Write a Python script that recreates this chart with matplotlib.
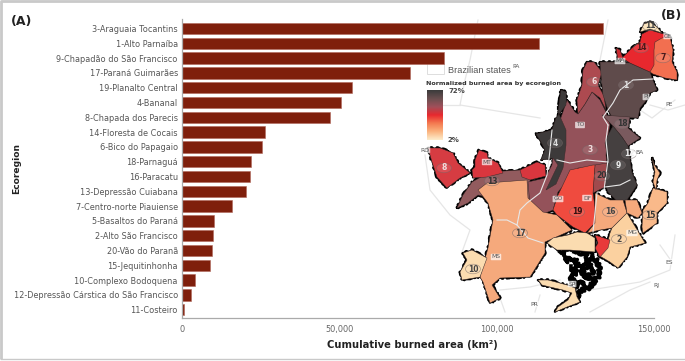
import matplotlib
matplotlib.use("Agg")
import matplotlib.pyplot as plt
import numpy as np
from matplotlib.patches import Polygon, Ellipse, Rectangle
from matplotlib.colors import LinearSegmentedColormap
from matplotlib.ticker import FuncFormatter

plt.rcParams['font.family'] = 'DejaVu Sans'

# ---------- bar data ----------
ecoregions = ["3-Araguaia Tocantins", "1-Alto Parnaíba", "9-Chapadão do São Francisco",
              "17-Paraná Guimarães", "19-Planalto Central", "4-Bananal", "8-Chapada dos Parecis",
              "14-Floresta de Cocais", "6-Bico do Papagaio", "18-Parnaguá", "16-Paracatu",
              "13-Depressão Cuiabana", "7-Centro-norte Piauiense", "5-Basaltos do Paraná",
              "2-Alto São Francisco", "20-Vão do Paranã", "15-Jequitinhonha",
              "10-Complexo Bodoquena", "12-Depressão Cárstica do São Francisco", "11-Costeiro"]
burned_area = [133900, 113600, 83200, 72500, 54100, 50600, 47100, 26500, 25400, 22000, 21500,
               20400, 16000, 10200, 9900, 9500, 8800, 4200, 2800, 600]
x_ticks = [0, 50000, 100000, 150000]

# ---------- map data (outline vertices, colour) ----------
regions = [
    ("13", "#925b5e", [(457,208),(463,195),(472,182),(490,172),(520,170),(530,178),(530,202),(500,200),(478,195),(468,203)]),
    ("3",  "#94525a", [(567,100),(575,112),(578,114),(585,104),(592,92),(600,100),(606,112),(610,125),(607,140),(606,155),(607,165),(595,168),(578,168),(570,178),(558,192),(553,210),(543,214),(530,205),(528,182),(545,178),(552,165),(555,135)]),
    ("4",  "#3d3a3a", [(561,90),(566,92),(566,105),(556,118),(552,130),(536,134),(541,142),(545,150),(541,160),(553,158),(558,165),(546,190),(556,184),(563,168),(566,145),(566,130),(558,112)]),
    ("5b", "#d9363e", [(520,170),(537,162),(545,165),(546,176),(530,180),(522,177)]),
    ("6",  "#ad4a50", [(587,62),(594,62),(602,72),(598,85),(604,96),(606,110),(600,98),(592,92),(585,104),(578,114),(577,100),(582,85),(583,70)]),
    ("1",  "#5f4b4b", [(600,62),(615,62),(630,63),(650,72),(652,78),(657,90),(650,93),(645,102),(640,108),(638,118),(612,117),(608,110),(603,95),(601,75)]),
    ("18", "#7a5a5e", [(602,115),(630,117),(628,128),(640,138),(628,146),(622,137),(612,125)]),
    ("9",  "#454040", [(607,137),(613,126),(622,137),(628,146),(632,173),(637,185),(627,200),(618,202),(608,192),(605,183),(608,160),(605,143)]),
    ("20", "#a04a4d", [(595,165),(607,163),(605,187),(593,193)]),
    ("14", "#e8282e", [(622,58),(632,48),(640,42),(642,34),(650,30),(660,33),(668,35),(662,42),(655,55),(654,70),(650,72),(641,68),(630,63)]),
    ("14b", "#c92a30", [(616,48),(620,50),(623,58),(618,60)]),
    ("11", "#fbe3b8", [(640,32),(644,24),(650,22),(657,27),(662,33),(650,29)]),
    ("7",  "#f26f50", [(655,42),(662,38),(670,37),(673,50),(672,62),(677,72),(677,80),(665,78),(653,74),(650,72),(654,65),(654,50)]),
    ("8",  "#d63c42", [(428,148),(440,148),(453,153),(458,163),(470,173),(460,178),(447,188),(437,177),(432,162)]),
    ("5",  "#d9363e", [(475,160),(479,150),(487,153),(488,158),(498,163),(503,173),(487,177),(473,178),(472,170),(475,167)]),
    ("17", "#f5a97c", [(478,190),(487,183),(527,180),(528,198),(543,212),(557,215),(572,230),(545,242),(545,253),(530,277),(500,278),(492,285),(500,298),(490,303),(483,282),(480,277),(488,248),(493,220),(488,203)]),
    ("10", "#fbdcb0", [(463,253),(472,250),(487,258),(480,277),(462,280),(460,272),(467,260)]),
    ("19", "#ef4b3f", [(553,210),(558,195),(570,170),(593,165),(595,165),(593,193),(595,207),(595,223),(585,233),(573,227),(557,215)]),
    ("16", "#f5a97c", [(595,193),(610,200),(623,200),(627,213),(612,228),(600,230),(587,233),(595,223)]),
    ("16b", "#f5a97c", [(625,200),(637,200),(642,213),(638,218),(627,213)]),
    ("15", "#f9b98a", [(643,210),(648,203),(653,188),(667,192),(667,203),(657,213),(657,223),(643,233),(642,227)]),
    ("15b", "#f9b98a", [(652,158),(655,166),(660,173),(657,180),(656,190),(653,182),(655,172)]),
    ("2",  "#fbd1a0", [(627,213),(645,243),(630,247),(627,257),(618,268),(610,262),(598,255),(607,245),(610,233),(612,228)]),
    ("2b", "#e83a3a", [(595,235),(610,240),(608,248),(600,257),(595,248),(598,243)]),
    ("5c", "#fbdcb0", [(547,243),(553,238),(568,235),(577,232),(587,233),(595,238),(595,252),(570,250),(557,250)]),
    ("5d", "#fbdcb0", [(538,280),(548,280),(567,285),(575,288),(577,297),(580,302),(567,307),(555,312),(558,307),(568,300),(572,293),(563,290),(550,287),(542,285)]),
]
jagged_black = [
    [(560,252),(568,256),(566,262),(574,258),(580,268),(588,262),(594,272),(586,276),(596,282),(588,288),(582,280),(576,286),(570,276),(578,272),(570,268)],
    [(574,252),(590,254),(598,262),(600,274),(592,284),(580,292),(576,300)],
    [(584,252),(590,262),(582,272),(590,280)],
]
white_lines = [
    [(653,79),(633,80),(620,90),(613,103),(603,117),(608,125)],
    [(552,130),(550,150),(547,175),(540,193),(527,203),(520,210),(517,225),(507,220),(497,220)],
    [(557,160),(570,163),(587,160),(608,162)],
    [(517,225),(528,238),(543,243)],
    [(605,187),(620,185),(630,180)],
    [(597,193),(593,232)],
    [(608,125),(606,140),(608,160),(604,190)],
]
state_lines = [
    [(478,20),(470,60),(465,80),(460,105),(540,118)],
    [(427,105),(460,105)],
    [(425,155),(430,190),(450,215),(470,230),(462,252)],
    [(500,298),(505,312)],
    [(500,290),(530,287),(560,280)],
    [(590,290),(640,282),(670,270),(675,235)],
    [(650,105),(668,110),(685,105)],
    [(640,110),(652,118),(675,100)],
    [(590,312),(630,290),(650,282)],
    [(608,20),(600,60)],
    [(660,245),(672,262)],
    [(535,312),(540,295)],
]
region_labels = [("14",641,48,"#4a1a1a"),("7",663,58,"#4a1a1a"),("1",626,85,"#dddddd"),("6",594,82,"#f0dddd"),
                 ("18",622,124,"#333333"),("4",555,143,"#dddddd"),("3",590,150,"#f0dddd"),("12",629,154,"#eeeeee"),
                 ("9",618,165,"#eeeeee"),("20",602,176,"#333333"),("8",444,168,"#f0dddd"),("13",492,181,"#333333"),
                 ("19",577,212,"#331111"),("16",610,212,"#444444"),("15",650,215,"#333333"),("17",520,233,"#444444"),
                 ("2",619,239,"#444444"),("10",473,269,"#444444"),("11",650,26,"#444444")]
state_labels = [("MA",620,61),("PI",646,97),("PE",669,105),("TO",580,125),("BA",640,153),("GO",558,199),
                ("DF",587,198),("MT",487,162),("RO",425,150),("MS",496,257),("MG",632,233),("ES",669,262),
                ("RJ",656,285),("PR",534,304),("SP",572,284),("CE",668,36),("PA",516,66)]
cbar_colors = ["#3c3c3c", "#6a4f50", "#a0505a", "#e8282e", "#f47a50", "#fbb37e", "#fdeccb"]
cbar_labels = ["72%", "2%"]

# ---------- figure ----------
W, H = 685, 361
fig = plt.figure(figsize=(W/100, H/100), dpi=100, facecolor="white")

m = fig.add_axes([0, 0, 1, 1], zorder=0)
m.set_xlim(0, W); m.set_ylim(H, 0); m.axis("off")

# frame
m.plot([1, 1, W], [H-2, 1, 1], color="#c9c9c9", lw=2, solid_capstyle="butt")
m.plot([1, W], [H-2, H-2], color="#c9c9c9", lw=1)

for line in state_lines:
    xs, ys = zip(*line)
    m.plot(xs, ys, color="#e6e6e6", lw=0.9, zorder=1)

# black outline layer
for _, col, pts in regions:
    p = Polygon(pts, closed=True, facecolor="black", edgecolor="black", lw=1.6, zorder=2, joinstyle="round")
    p.set_sketch_params(scale=0.8, length=6, randomness=10)
    m.add_patch(p)
for line in jagged_black:
    xs, ys = zip(*line)
    l, = m.plot(xs, ys, color="black", lw=2.6, zorder=2)
    l.set_sketch_params(scale=2.2, length=6, randomness=10)
# fills
for _, col, pts in regions:
    m.add_patch(Polygon(pts, closed=True, facecolor=col, edgecolor="#3a2a2a", lw=0.35, zorder=3))
for line in white_lines:
    xs, ys = zip(*line)
    m.plot(xs, ys, color="#e8e8e8", lw=0.8, zorder=4)

for t, x, y, c in region_labels:
    m.add_patch(Ellipse((x, y), 15, 9.5, facecolor=(1, 1, 1, 0.10), edgecolor=(0.45, 0.4, 0.4, 0.6), lw=0.5, zorder=5))
    m.text(x, y, t, ha="center", va="center", fontsize=5.5, color=c, fontweight="bold", zorder=6)
for t, x, y in state_labels:
    m.text(x, y, t, ha="center", va="center", fontsize=4.3, color="#555555", zorder=6,
           bbox=dict(boxstyle="round,pad=0.12", fc=(1, 1, 1, 0.7), ec="none"))

# legend
m.add_patch(Rectangle((427, 63), 17, 11, fc="white", ec="#dddddd", lw=0.7, zorder=6))
m.text(448, 70.5, "Brazilian states", fontsize=6.6, color="#555555", family="Liberation Sans", va="center", zorder=6)
m.text(426.5, 83, "Normalized burned area by ecoregion", fontsize=4.6, fontweight="bold", color="#333333", va="center", zorder=6)
cmap = LinearSegmentedColormap.from_list("burn", cbar_colors)
grad = np.linspace(0, 1, 100).reshape(-1, 1)
m.imshow(grad, cmap=cmap, extent=(427, 443, 140, 90), aspect="auto", zorder=6)
m.set_xlim(0, W); m.set_ylim(H, 0)
m.text(448, 91, cbar_labels[0], fontsize=5.0, fontweight="bold", color="#444444", va="center", zorder=6)
m.text(448, 140.5, cbar_labels[1], fontsize=5.0, fontweight="bold", color="#444444", va="center", zorder=6)

m.text(11, 21, "(A)", fontsize=9, fontweight="bold", color="#222222", va="center")
m.text(661, 16, "(B)", fontsize=9, fontweight="bold", color="#222222", va="center")

# bars
ax = fig.add_axes([182/W, 1-318/H, (653.5-182)/W, (318-19)/H], zorder=1)
ax.patch.set_alpha(0)
y = np.arange(len(ecoregions))
ax.barh(y, burned_area, height=0.76, color="#7f1f0c", edgecolor="#b0685a", linewidth=0.4)
ax.set_xlim(0, 150000)
ax.set_ylim(19.56, -0.64)
ax.set_yticks(y)
ax.set_yticklabels(ecoregions, fontsize=5.9, color="#555555")
ax.set_xticks(x_ticks)
ax.xaxis.set_major_formatter(FuncFormatter(lambda v, _: f"{int(v):,}"))
ax.tick_params(axis="x", labelsize=5.9, labelcolor="#666666", length=0, pad=5)
ax.tick_params(axis="y", length=0, pad=3)
for s in ("top", "right"):
    ax.spines[s].set_visible(False)
for s in ("left", "bottom"):
    ax.spines[s].set_color("#aaaaaa")
    ax.spines[s].set_linewidth(0.9)
m.text(412, 345, "Cumulative burned area (km²)", fontsize=7.2, fontweight="bold", color="#222222", ha="center", va="center")
m.text(17, 168, "Ecoregion", fontsize=6.6, fontweight="bold", color="#222222", rotation=90, ha="center", va="center")

fig.savefig("out.png", dpi=100)
